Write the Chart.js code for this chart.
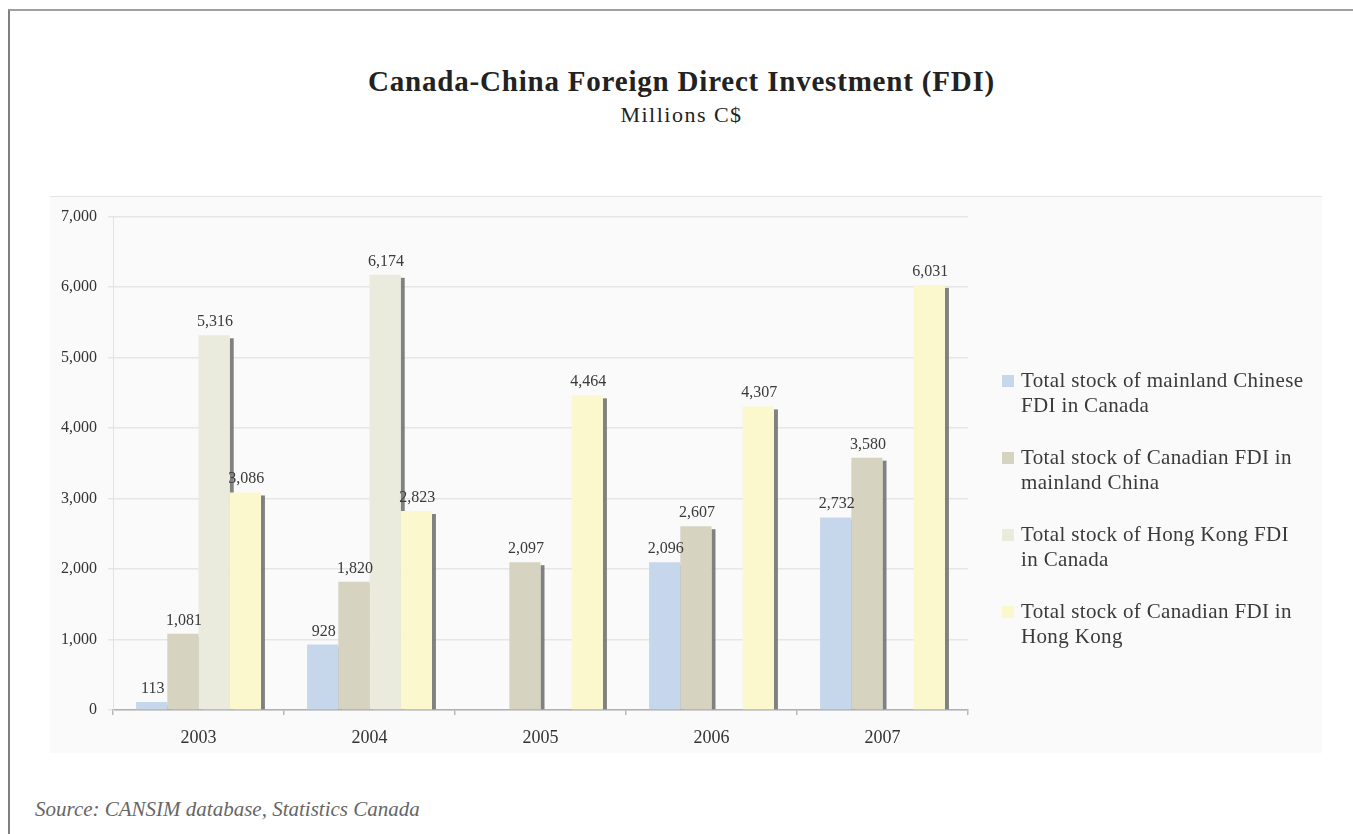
<!DOCTYPE html>
<html lang="en">
<head>
  <meta charset="UTF-8" />
  <title>Canada-China Foreign Direct Investment (FDI)</title>
  <script src="https://cdn.jsdelivr.net/npm/chart.js"></script>
  <style>
    body {
      margin: 0;
      width: 1353px;
      height: 834px;
      overflow: hidden;
      position: relative;
      background: #fff;
      font-family: "Liberation Serif", serif;
      color: #222;
    }
    .frame {
      position: absolute;
      left: 8px;
      top: 9px;
      right: -4px;
      bottom: -4px;
      border-top: 2px solid #a0a0a0;
      border-left: 2px solid #808080;
    }
    .title {
      position: absolute;
      left: 10px;
      right: 0;
      top: 67px;
      text-align: center;
      font-size: 29px;
      line-height: 29px;
      font-weight: bold;
      letter-spacing: 0.8px;
    }
    .subtitle {
      position: absolute;
      left: 10px;
      right: 0;
      top: 104px;
      text-align: center;
      font-size: 22px;
      line-height: 22px;
      letter-spacing: 1.5px;
    }
    .panel {
      position: absolute;
      left: 50px;
      top: 196px;
      width: 1272px;
      height: 557px;
      background: #fafafa;
      border-top: 1px solid #e4e4e4;
      box-sizing: border-box;
    }
    #chart {
      position: absolute;
      left: 50px;
      top: 196px;
    }
    .legend {
      position: absolute;
      left: 1002px;
      top: 368px;
    }
    .legend-item {
      position: relative;
      padding-left: 19px;
      height: 50px;
      margin-bottom: 27px;
      font-size: 21px;
      line-height: 25px;
      letter-spacing: 0.35px;
      color: #3a3a3a;
      white-space: pre;
    }
    .legend-item span {
      position: absolute;
      left: 0;
      top: 7px;
      width: 12px;
      height: 12px;
    }
    .source {
      position: absolute;
      left: 35px;
      top: 799px;
      font-size: 21px;
      line-height: 21px;
      font-style: italic;
      color: #666;
    }
  </style>
</head>
<body>
  <div class="frame"></div>
  <div class="title">Canada-China Foreign Direct Investment (FDI)</div>
  <div class="subtitle">Millions C$</div>
  <div class="panel"></div>
  <canvas id="chart" width="1272" height="557"></canvas>
  <div class="legend" id="legend"></div>
  <div class="source">Source: CANSIM database, Statistics Canada</div>

  <script>
    const years = ['2003', '2004', '2005', '2006', '2007'];
    const mainlandInCanada = [113, 928, null, 2096, 2732];
    const canadaInMainland = [1081, 1820, 2097, 2607, 3580];
    const hongKongInCanada = [5316, 6174, null, null, null];
    const canadaInHongKong = [3086, 2823, 4464, 4307, 6031];

    const seriesLabels = [
      'Total stock of mainland Chinese\nFDI in Canada',
      'Total stock of Canadian FDI in\nmainland China',
      'Total stock of Hong Kong FDI\nin Canada',
      'Total stock of Canadian FDI in\nHong Kong'
    ];
    const seriesColors = ['#c6d6eb', '#d6d3c0', '#eaebdd', '#fcf8ce'];

    const fmt = v => v.toLocaleString('en-US');

    // dark strip on the right of every bar, drawn first so the next bar hides it
    const barShadow = {
      id: 'barShadow',
      beforeDatasetsDraw(chart) {
        const ctx = chart.ctx;
        ctx.save();
        ctx.fillStyle = 'rgba(115,115,115,0.9)';
        chart.data.datasets.forEach((ds, i) => {
          chart.getDatasetMeta(i).data.forEach((bar, j) => {
            if (ds.data[j] == null) return;
            const p = bar.getProps(['x', 'y', 'base', 'width'], true);
            ctx.fillRect(p.x + p.width / 2, p.y + 3, 4, p.base - p.y - 3);
          });
        });
        ctx.restore();
      }
    };

    // value printed above each bar
    const barValues = {
      id: 'barValues',
      afterDatasetsDraw(chart) {
        const ctx = chart.ctx;
        ctx.save();
        ctx.font = '16px "Liberation Serif", serif';
        ctx.fillStyle = '#3a3a3a';
        ctx.textAlign = 'center';
        ctx.textBaseline = 'alphabetic';
        chart.data.datasets.forEach((ds, i) => {
          chart.getDatasetMeta(i).data.forEach((bar, j) => {
            if (ds.data[j] == null) return;
            const p = bar.getProps(['x', 'y'], true);
            ctx.fillText(fmt(ds.data[j]), p.x + 1, p.y - 9);
          });
        });
        ctx.restore();
      }
    };

    const seriesData = [mainlandInCanada, canadaInMainland, hongKongInCanada, canadaInHongKong];

    new Chart(document.getElementById('chart'), {
      type: 'bar',
      data: {
        labels: years,
        datasets: seriesData.map((d, i) => ({
          label: seriesLabels[i],
          data: d,
          backgroundColor: seriesColors[i],
          borderWidth: 0,
          barPercentage: 1,
          categoryPercentage: 0.73
        }))
      },
      options: {
        responsive: false,
        animation: false,
        layout: { padding: { top: 16, right: 354, left: 0, bottom: 0 } },
        plugins: {
          legend: { display: false },
          tooltip: { enabled: false }
        },
        scales: {
          x: {
            afterFit(s) { s.height = 43; },
            grid: {
              drawOnChartArea: false,
              tickLength: 5,
              color: '#b8b8bc',
              lineWidth: 1.5
            },
            border: { color: '#b0b0b6', width: 1.5 },
            ticks: {
              color: '#333',
              padding: 12,
              font: { family: '"Liberation Serif", serif', size: 18 }
            }
          },
          y: {
            min: 0,
            max: 7000,
            afterFit(s) { s.width = 63; },
            grid: { color: '#e6e6e6', lineWidth: 1.5, tickLength: 5 },
            border: { color: '#e2e2e2', width: 1 },
            ticks: {
              stepSize: 1000,
              color: '#333',
              padding: 11,
              font: { family: '"Liberation Serif", serif', size: 16 },
              callback: v => fmt(v)
            }
          }
        }
      },
      plugins: [barShadow, barValues]
    });

    document.getElementById('legend').innerHTML = seriesLabels.map((label, i) =>
      `<div class="legend-item"><span style="background:${seriesColors[i]}"></span>${label}</div>`
    ).join('');
  </script>
</body>
</html>
